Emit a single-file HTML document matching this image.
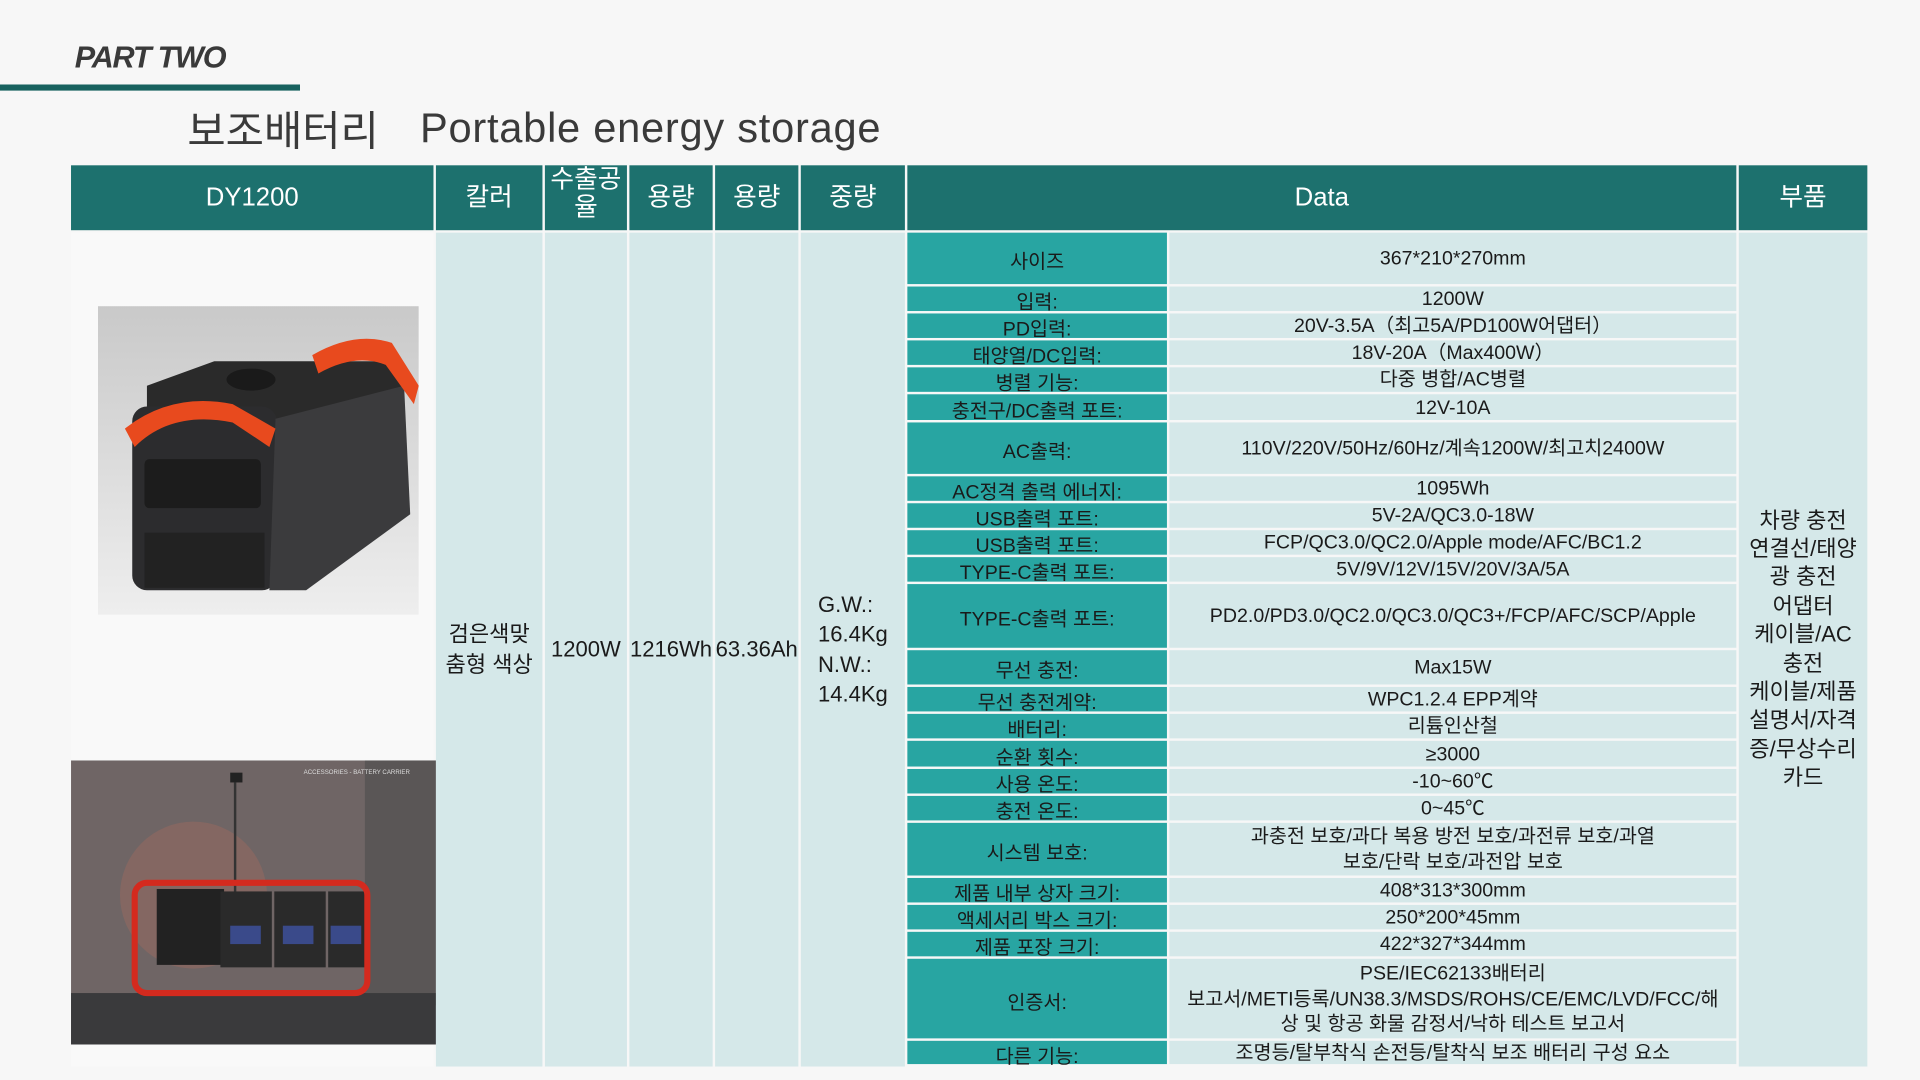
<!DOCTYPE html>
<html><head><meta charset="utf-8"><style>
html,body{margin:0;padding:0;width:1920px;height:1080px;overflow:hidden;background:#f7f7f7;}
#s{position:absolute;left:0;top:0;width:1568px;height:882px;transform:scale(1.22449);transform-origin:0 0;font-family:"Liberation Sans Narrow","Liberation Sans","Noto Sans CJK KR",sans-serif;}
.a{position:absolute;box-sizing:border-box;display:flex;align-items:center;justify-content:center;text-align:center;}
.h{background:#1d716e;color:#fff;font-size:21px;font-family:"Liberation Sans","Noto Sans CJK KR",sans-serif;line-height:1.1;}
.l{background:#28a5a2;color:#1a1a1a;font-size:16px;padding-top:2px;}
.v{background:#d5e8e9;color:#1a1a1a;font-size:16px;line-height:1.3;padding-top:3px;}
.c{background:#d5e8e9;color:#1a1a1a;font-size:18px;font-family:"Liberation Sans","Noto Sans CJK KR",sans-serif;line-height:1.35;}
</style></head><body><div id="s">
<div style="position:absolute;left:61px;top:33px;font:italic bold 25px 'Liberation Sans',sans-serif;color:#3a3a3a;letter-spacing:-1px">PART TWO</div>
<div style="position:absolute;left:0;top:69px;width:245px;height:5px;background:#18625f"></div>
<div style="position:absolute;left:153px;top:80px;font:34px 'Liberation Sans','Noto Sans CJK KR',sans-serif;color:#3a3a3a;white-space:nowrap">보조배터리</div>
<div style="position:absolute;left:343px;top:86px;font:34px 'Liberation Sans',sans-serif;color:#3a3a3a;white-space:nowrap;letter-spacing:0.6px">Portable energy storage</div>
<div class="a h" style="left:58px;top:135px;width:296px;height:53px">DY1200</div>
<div class="a h" style="left:356px;top:135px;width:87px;height:53px">칼러</div>
<div class="a h" style="left:445px;top:135px;width:67px;height:53px;align-items:flex-start">수출공<br>율</div>
<div class="a h" style="left:514px;top:135px;width:68px;height:53px">용량</div>
<div class="a h" style="left:584px;top:135px;width:68px;height:53px">용량</div>
<div class="a h" style="left:654px;top:135px;width:85px;height:53px">중량</div>
<div class="a h" style="left:741px;top:135px;width:677px;height:53px">Data</div>
<div class="a h" style="left:1420px;top:135px;width:105px;height:53px">부품</div>
<div style="position:absolute;left:58px;top:190px;width:296px;height:681px;background:#f9f9f9"></div>
<svg style="position:absolute;left:80px;top:250px" width="262" height="252" viewBox="0 0 262 252">
<defs><linearGradient id="g" x1="0" y1="0" x2="0" y2="1"><stop offset="0" stop-color="#c9c9c9"/><stop offset="1" stop-color="#eeeeee"/></linearGradient></defs>
<rect width="262" height="252" fill="url(#g)"/>
<path d="M40 65 L95 45 L245 45 L250 70 L150 95 L40 90 Z" fill="#2a2a2a"/>
<ellipse cx="125" cy="60" rx="20" ry="9" fill="#1a1a1a"/>
<rect x="28" y="82" width="118" height="150" rx="12" fill="#2c2c2e"/>
<path d="M145 92 L250 65 L255 170 L170 232 L140 232 Z" fill="#3b3b3d"/>
<path d="M22 100 Q60 70 110 80 L145 100 L140 115 L110 95 Q60 85 30 115 Z" fill="#e84a1e"/>
<path d="M175 40 Q210 20 240 30 L262 65 L258 80 L235 48 Q210 38 180 55 Z" fill="#e84a1e"/>
<rect x="38" y="125" width="95" height="40" rx="4" fill="#1c1c1c"/>
<rect x="38" y="185" width="98" height="45" fill="#222"/>
</svg>
<svg style="position:absolute;left:58px;top:621px" width="298" height="232" viewBox="0 0 298 232">
<rect width="298" height="232" fill="#6f6565"/>
<rect x="240" width="58" height="200" fill="#5a5656"/>
<circle cx="100" cy="110" r="60" fill="#9a6a60" opacity="0.5"/>
<rect x="0" y="190" width="298" height="42" fill="#3a3a3c"/>
<rect x="130" y="10" width="10" height="8" fill="#222"/>
<rect x="133" y="18" width="2" height="95" fill="#333"/>
<rect x="70" y="105" width="55" height="62" fill="#222"/>
<rect x="122" y="107" width="42" height="62" fill="#2a2a2a"/><rect x="166" y="107" width="42" height="62" fill="#2a2a2a"/><rect x="210" y="107" width="32" height="62" fill="#2a2a2a"/>
<rect x="130" y="135" width="25" height="15" fill="#3a4a8a"/><rect x="173" y="135" width="25" height="15" fill="#3a4a8a"/><rect x="212" y="135" width="25" height="15" fill="#3a4a8a"/>
<rect x="52" y="100" width="190" height="90" rx="10" fill="none" stroke="#d42a1e" stroke-width="5"/>
<text x="190" y="11" font-size="5" fill="#ddd" font-family="Liberation Sans">ACCESSORIES - BATTERY CARRIER</text>
</svg>
<div class="a c" style="left:356px;top:190px;width:87px;height:681px;font-size:18px">검은색맞<br>춤형 색상</div>
<div class="a c" style="left:445px;top:190px;width:67px;height:681px">1200W</div>
<div class="a c" style="left:514px;top:190px;width:68px;height:681px">1216Wh</div>
<div class="a c" style="left:584px;top:190px;width:68px;height:681px">63.36Ah</div>
<div class="a c" style="left:654px;top:190px;width:85px;height:681px;justify-content:flex-start;text-align:left;padding-left:14px">G.W.:<br>16.4Kg<br>N.W.:<br>14.4Kg</div>
<div class="a c" style="left:1420px;top:190px;width:105px;height:681px;line-height:1.3">차량 충전<br>연결선/태양<br>광 충전<br>어댑터<br>케이블/AC<br>충전<br>케이블/제품<br>설명서/자격<br>증/무상수리<br>카드</div>
<div id="rows"></div>
<script>
var r=[["사이즈","367*210*270mm",44],["입력:","1200W",22],["PD입력:","20V-3.5A（최고5A/PD100W어댑터）",22],["태양열/DC입력:","18V-20A（Max400W）",22],["병렬 기능:","다중 병합/AC병렬",22],["충전구/DC출력 포트:","12V-10A",23],["AC출력:","110V/220V/50Hz/60Hz/계속1200W/최고치2400W",44],["AC정격 출력 에너지:","1095Wh",22],["USB출력 포트:","5V-2A/QC3.0-18W",22],["USB출력 포트:","FCP/QC3.0/QC2.0/Apple mode/AFC/BC1.2",22],["TYPE-C출력 포트:","5V/9V/12V/15V/20V/3A/5A",22],["TYPE-C출력 포트:","PD2.0/PD3.0/QC2.0/QC3.0/QC3+/FCP/AFC/SCP/Apple",54],["무선 충전:","Max15W",30],["무선 충전계약:","WPC1.2.4 EPP계약",22],["배터리:","리튬인산철",22],["순환 횟수:","≥3000",23],["사용 온도:","-10~60℃",22],["충전 온도:","0~45℃",22],["시스템 보호:","과충전 보호/과다 복용 방전 보호/과전류 보호/과열<br>보호/단락 보호/과전압 보호",45],["제품 내부 상자 크기:","408*313*300mm",22],["액세서리 박스 크기:","250*200*45mm",22],["제품 포장 크기:","422*327*344mm",22],["인증서:","PSE/IEC62133배터리<br>보고서/METI등록/UN38.3/MSDS/ROHS/CE/EMC/LVD/FCC/해<br>상 및 항공 화물 감정서/낙하 테스트 보고서",67],["다른 기능:","조명등/탈부착식 손전등/탈착식 보조 배터리 구성 요소",21]];
var y=190,h="";
r.forEach(function(e){h+='<div class="a l" style="left:741px;top:'+y+'px;width:212px;height:'+(e[2]-2)+'px">'+e[0]+'</div><div class="a v" style="left:955px;top:'+y+'px;width:463px;height:'+(e[2]-2)+'px">'+e[1]+'</div>';y+=e[2];});
document.getElementById('rows').outerHTML=h;
</script>
</div></body></html>
